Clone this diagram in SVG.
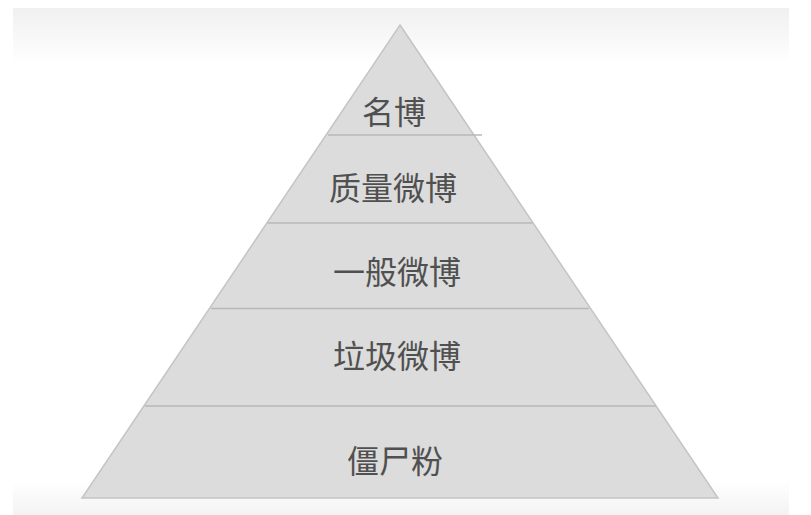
<svg xmlns="http://www.w3.org/2000/svg" width="811" height="515" viewBox="0 0 811 515">
<defs>
<linearGradient id="bg" x1="0" y1="0" x2="0" y2="1">
<stop offset="0" stop-color="#f0f0f0"/>
<stop offset="1" stop-color="#ffffff"/>
</linearGradient>
<linearGradient id="bot" x1="0" y1="0" x2="0" y2="1">
<stop offset="0" stop-color="#ffffff"/>
<stop offset="1" stop-color="#f3f3f3"/>
</linearGradient>
</defs>
<style>
.lbl{font-family:"Noto Sans CJK SC","Noto Sans CJK JP",sans-serif;font-size:32px;fill:#505050;text-anchor:middle;dominant-baseline:central}
.sep{stroke:#b8b8b8;stroke-width:1.5;fill:none}
</style>
<rect width="811" height="515" fill="#ffffff"/>
<rect x="13" y="8" width="776" height="56" fill="url(#bg)"/>
<rect x="13" y="480" width="776" height="35" fill="url(#bot)"/>
<g id="pyramid">
<polygon points="400,25 718,498 82,498" fill="#dcdcdc" stroke="#c4c4c4" stroke-width="1.5"/>
</g>
<g id="connectors">
<line class="sep" x1="328" y1="135" x2="482" y2="135"/>
<line class="sep" x1="268" y1="223" x2="532" y2="223"/>
<line class="sep" x1="211" y1="308.5" x2="589" y2="308.5"/>
<line class="sep" x1="145" y1="406" x2="656" y2="406"/>
</g>
<g id="n1"><text class="lbl" x="394" y="110">名博</text></g>
<g id="n2"><text class="lbl" x="393" y="186">质量微博</text></g>
<g id="n3"><text class="lbl" x="397" y="270">一般微博</text></g>
<g id="n4"><text class="lbl" x="397" y="354">垃圾微博</text></g>
<g id="n5"><text class="lbl" x="395" y="459">僵尸粉</text></g>
</svg>
